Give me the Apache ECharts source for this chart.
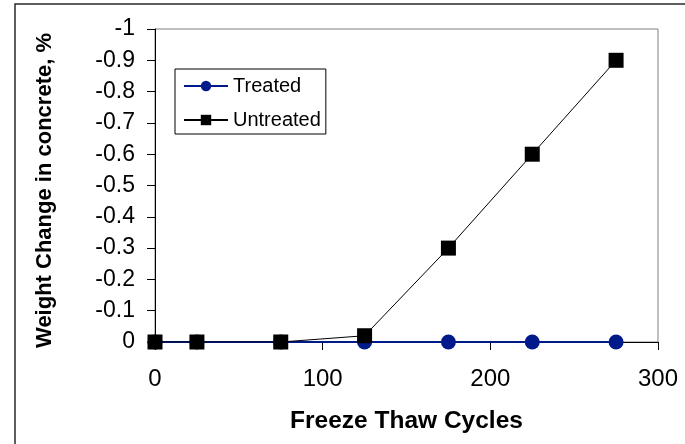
<!DOCTYPE html>
<html>
<head>
<meta charset="utf-8">
<script src="https://cdn.jsdelivr.net/npm/echarts@6/dist/echarts.min.js"></script>
<style>
html,body{margin:0;padding:0;background:#fff;}
#c{width:685px;height:444px;}
</style>
</head>
<body>
<div id="c"></div>
<script>
// Data
var cycles = [0, 25, 75, 125, 175, 225, 275];
var treated = [0, 0, 0, 0, 0, 0, 0];
var untreated = [0, 0, 0, -0.02, -0.3, -0.6, -0.9];
var seriesNames = ['Treated', 'Untreated'];
var xTitle = 'Freeze Thaw Cycles';
var yTitle = 'Weight Change in concrete, %';

function pairs(xs, ys) { return xs.map(function (x, i) { return [x, ys[i]]; }); }

var FONT = "'Liberation Sans', Arial, sans-serif";
var chart = echarts.init(document.getElementById('c'), null, { renderer: 'canvas' });
chart.setOption({
  animation: false,
  backgroundColor: '#ffffff',
  textStyle: { fontFamily: FONT },
  graphic: [{
    type: 'rect',
    shape: { x: 15, y: 4, width: 700, height: 500 },
    style: { fill: 'none', stroke: '#2a2a2a', lineWidth: 1.5 },
    silent: true
  }],
  grid: {
    left: 155, right: 27, top: 29, bottom: 102,
    show: true, borderColor: '#808080', borderWidth: 1, backgroundColor: 'transparent'
  },
  legend: {
    left: 175, top: 69,
    orient: 'vertical',
    backgroundColor: '#fff',
    borderColor: '#000', borderWidth: 1,
    padding: [7, 5, 4, 8],
    itemWidth: 44, itemHeight: 13, itemGap: 14,
    textStyle: { fontFamily: FONT, fontSize: 20, color: '#000' },
    data: seriesNames
  },
  xAxis: {
    type: 'value', min: 0, max: 300, interval: 100,
    name: xTitle, nameLocation: 'middle', nameGap: 79,
    nameTextStyle: { fontFamily: FONT, fontSize: 24.5, fontWeight: 'bold', color: '#000', verticalAlign: 'middle' },
    axisLine: { show: true, onZero: false, lineStyle: { color: '#000', width: 1 } },
    axisTick: { show: true, inside: false, length: 8, lineStyle: { color: '#000' } },
    axisLabel: { fontFamily: FONT, fontSize: 24, color: '#000', margin: 25 },
    splitLine: { show: false }
  },
  yAxis: {
    type: 'value', min: -1, max: 0, interval: 0.1, inverse: true,
    name: yTitle, nameLocation: 'middle', nameGap: 110, nameRotate: 90,
    nameTextStyle: { fontFamily: FONT, fontSize: 22, fontWeight: 'bold', color: '#000', verticalAlign: 'middle', padding: [0, 10, 0, 0] },
    axisLine: { show: true, onZero: false, lineStyle: { color: '#000', width: 1 } },
    axisTick: { show: true, inside: false, length: 8, lineStyle: { color: '#000' } },
    axisLabel: {
      fontFamily: FONT, fontSize: 23, color: '#000', margin: 20,
      formatter: function (v) { return String(Number(v.toFixed(1))); }
    },
    splitLine: { show: false }
  },
  series: [{
    name: seriesNames[0], type: 'line',
    data: pairs(cycles, treated),
    symbol: 'circle', symbolSize: 15,
    itemStyle: { color: '#001a8c' },
    lineStyle: { color: '#001a8c', width: 2 },
    z: 2
  }, {
    name: seriesNames[1], type: 'line',
    data: pairs(cycles, untreated),
    symbol: 'rect', symbolSize: 15,
    itemStyle: { color: '#000' },
    lineStyle: { color: '#000', width: 1 },
    z: 3
  }]
});
</script>
</body>
</html>
